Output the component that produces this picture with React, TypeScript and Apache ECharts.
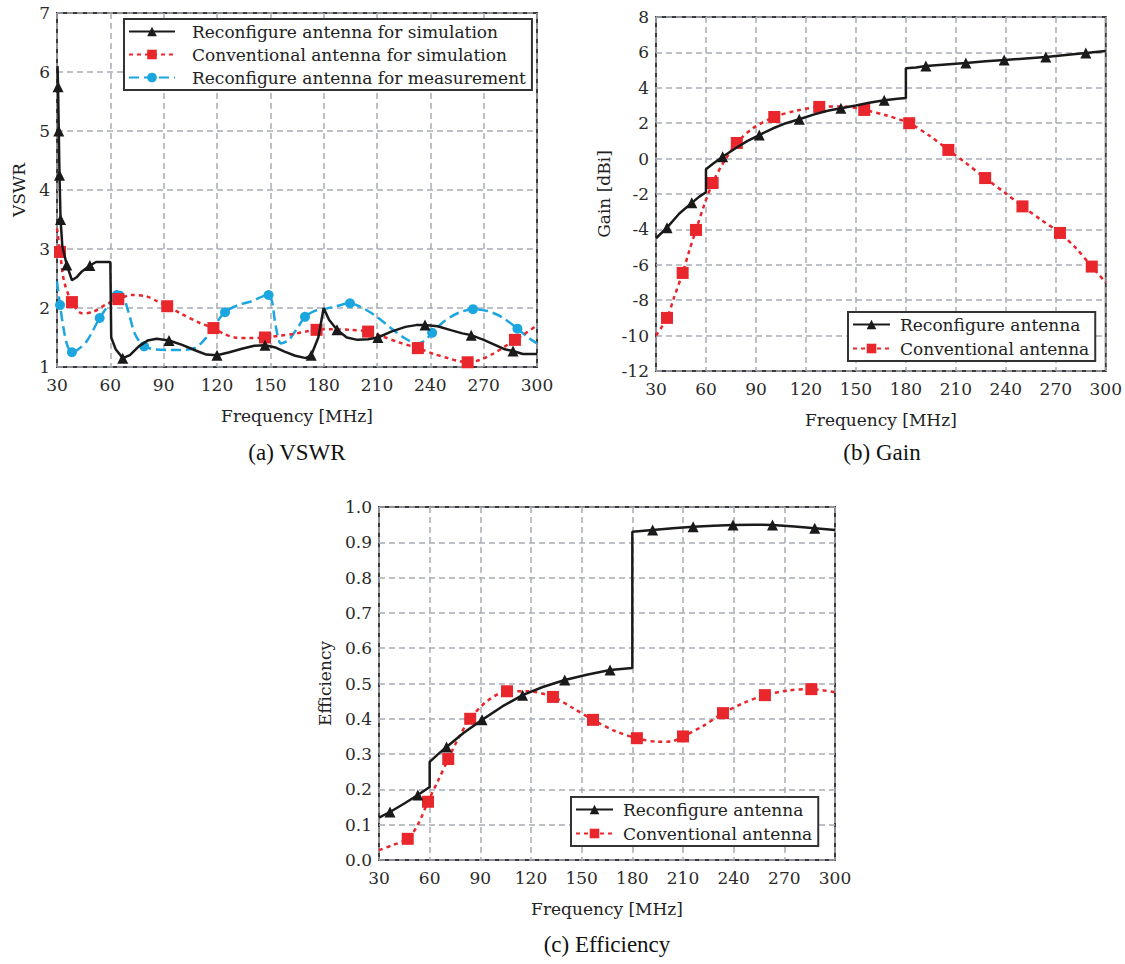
import React, { useEffect, useRef } from "react";
import * as echarts from "echarts";

// ---------- data ----------
const freqTicks = [30, 60, 90, 120, 150, 180, 210, 240, 270, 300];

// (a) VSWR
const vswrReconfigSim: number[][] = [
  [30.3, 6.1], [30.6, 5.75], [31, 5.0], [31.4, 4.25], [32, 3.5], [33, 3.05], [35.5, 2.73], [38.4, 2.47],
  [41, 2.52], [44, 2.62], [48.5, 2.72], [52, 2.78], [60, 2.78], [60.5, 1.5], [63, 1.3], [67, 1.15],
  [71, 1.2], [76, 1.35], [81, 1.45], [86, 1.48], [93, 1.45], [100, 1.38], [108, 1.28], [114, 1.21],
  [120, 1.2], [127, 1.25], [134, 1.31], [141, 1.36], [147, 1.37], [153, 1.33], [158, 1.26], [164, 1.19],
  [170, 1.15], [173, 1.2], [177, 1.5], [180, 2.0], [183, 1.8], [187.5, 1.63], [193, 1.5], [199, 1.46],
  [205, 1.47], [210.5, 1.5], [218, 1.6], [226, 1.68], [232, 1.71], [237, 1.71], [244, 1.69], [252, 1.62],
  [258, 1.57], [263, 1.54], [270, 1.46], [276, 1.38], [282, 1.3], [286.5, 1.27], [292, 1.22], [300, 1.22],
];
const vswrReconfigSimMarks = [30.6, 31, 31.4, 32, 35.5, 48.5, 67, 93, 120, 147, 173, 187.5, 210.5, 237, 263, 286.5];

const vswrConvSim: number[][] = [
  [30, 3.35], [31.7, 2.95], [34, 2.45], [38.4, 2.1], [44, 1.91], [50, 1.93], [57, 2.05], [64.5, 2.15],
  [72, 2.22], [80, 2.2], [86, 2.12], [92, 2.03], [100, 1.9], [110, 1.75], [118, 1.66], [124, 1.56],
  [130, 1.5], [138, 1.49], [147, 1.5], [155, 1.53], [163, 1.56], [170, 1.6], [176, 1.63], [185, 1.64],
  [195, 1.63], [205, 1.6], [213, 1.52], [222, 1.42], [233, 1.32], [242, 1.22], [250, 1.15], [256, 1.1],
  [261, 1.08], [268, 1.12], [275, 1.22], [281, 1.33], [287.6, 1.46], [294, 1.58], [300, 1.71],
];
const vswrConvSimMarks = [31.7, 38.4, 64.5, 92, 118, 147, 176, 205, 233, 261, 287.6];

const vswrReconfigMeas: number[][] = [
  [30, 2.45], [31.7, 2.05], [34, 1.6], [36, 1.35], [38.4, 1.25], [42, 1.3], [47, 1.45], [54, 1.83],
  [59, 2.05], [63.6, 2.22], [66, 2.27], [70, 1.95], [74, 1.55], [79, 1.35], [85, 1.3], [92, 1.29],
  [100, 1.29], [108, 1.33], [114, 1.5], [119, 1.72], [124.5, 1.93], [132, 2.05], [140, 2.12], [146, 2.2],
  [149, 2.22], [151, 2.1], [153, 1.7], [156, 1.4], [160, 1.45], [165, 1.65], [169.5, 1.85], [175, 1.95],
  [180, 1.98], [187, 2.03], [194.8, 2.08], [202, 2.0], [210, 1.85], [217, 1.68], [225, 1.5], [232.5, 1.4],
  [237, 1.45], [241, 1.58], [248, 1.78], [256, 1.92], [264, 1.98], [272, 1.95], [280, 1.85], [289, 1.65],
  [295, 1.5], [300, 1.4],
];
const vswrReconfigMeasMarks = [31.7, 38.4, 54, 63.6, 79, 124.5, 149, 169.5, 194.8, 241, 264, 289];

// (b) Gain
const gainReconfig: number[][] = [
  [30, -4.5], [36.6, -3.9], [44, -3.1], [51.5, -2.5], [56, -2.15], [60, -1.9], [60, -0.6], [64, -0.3],
  [70, 0.1], [78, 0.6], [85, 1.0], [92, 1.33], [100, 1.7], [108, 2.0], [116, 2.22], [125, 2.5],
  [133, 2.7], [141, 2.84], [150, 3.0], [158, 3.15], [167, 3.3], [175, 3.38], [180, 3.42], [180, 5.1],
  [186, 5.15], [192, 5.23], [204, 5.32], [216, 5.4], [228, 5.5], [239, 5.57], [252, 5.66], [264, 5.74],
  [276, 5.85], [288, 5.96], [300, 6.08],
];
const gainReconfigMarks = [36.6, 51.5, 70, 92, 116, 141, 167, 192, 216, 239, 264, 288];

const gainConv: number[][] = [
  [30, -10], [36.6, -9.0], [41, -7.8], [46, -6.46], [50, -5.2], [54, -4.03], [59, -2.6], [64, -1.38],
  [70, -0.3], [78.5, 0.88], [88, 1.7], [101, 2.35], [114, 2.7], [128, 2.92], [142, 2.95], [155, 2.75],
  [168, 2.45], [182, 2.0], [194, 1.3], [205.5, 0.49], [216, -0.25], [227.6, -1.1], [239, -1.9], [250, -2.7],
  [261, -3.45], [272.5, -4.2], [282, -5.05], [291.6, -6.1], [300, -7.0],
];
const gainConvMarks = [36.6, 46, 54, 64, 78.5, 101, 128, 155, 182, 205.5, 227.6, 250, 272.5, 291.6];

// (c) Efficiency
const effReconfig: number[][] = [
  [30, 0.12], [36.5, 0.136], [45, 0.16], [53, 0.184], [60, 0.207], [60, 0.278], [65, 0.3], [70, 0.32],
  [80, 0.36], [91, 0.397], [103, 0.435], [115, 0.467], [127, 0.49], [140, 0.51], [153, 0.525], [166.8, 0.538],
  [180, 0.544], [180, 0.93], [192, 0.935], [204, 0.94], [216, 0.944], [228, 0.947], [239.6, 0.949], [252, 0.95],
  [263, 0.949], [276, 0.945], [288, 0.94], [300, 0.935],
];
const effReconfigMarks = [36.5, 53, 70, 91, 115, 140, 166.8, 192, 216, 239.6, 263, 288];

const effConv: number[][] = [
  [30, 0.028], [38, 0.042], [47, 0.06], [53, 0.1], [59, 0.165], [65, 0.225], [71, 0.286], [77, 0.345],
  [84, 0.4], [94, 0.45], [105.8, 0.478], [118, 0.478], [133, 0.462], [145, 0.43], [156.7, 0.397], [170, 0.365],
  [182.7, 0.345], [195, 0.335], [203, 0.336], [210, 0.35], [222, 0.38], [233.7, 0.416], [246, 0.445],
  [258.5, 0.467], [272, 0.48], [286, 0.484], [300, 0.475],
];
const effConvMarks = [47, 59, 71, 84, 105.8, 133, 156.7, 182.7, 210, 233.7, 258.5, 286];

// ---------- styling ----------
const FONT = "DejaVu Serif";
const CAP_FONT = "'Liberation Serif', 'Times New Roman', serif";
const BLACK = "#1a1a1a";
const RED = "#e8262c";
const CYAN = "#1ba6df";
const GRIDC = "#a8adb5";

function buildData(pts: number[][], marks: number[]) {
  return pts.map(([f, v]) =>
    marks.includes(f) ? { value: [f, v] } : { value: [f, v], symbol: "none" }
  );
}

function xAxisCfg(gridIndex: number) {
  return {
    type: "value",
    gridIndex,
    min: freqTicks[0],
    max: freqTicks[freqTicks.length - 1],
    interval: 30,
    name: "Frequency [MHz]",
    nameLocation: "middle",
    nameGap: 40,
    nameTextStyle: { fontFamily: FONT, fontSize: 17, color: "#222" },
    axisLine: { show: false },
    axisTick: { show: false },
    axisLabel: { fontFamily: FONT, fontSize: 17, color: "#2a2a2a", margin: 9, showMaxLabel: true, showMinLabel: true },
    splitLine: { show: true, lineStyle: { type: [6, 4], color: GRIDC, width: 1.5 } },
  };
}

function yAxisCfg(gridIndex: number, name: string, min: number, max: number, interval: number, gap: number, fmt?: (v: number) => string) {
  return {
    type: "value",
    gridIndex,
    min,
    max,
    interval,
    name,
    nameLocation: "middle",
    nameRotate: 90,
    nameGap: gap,
    nameTextStyle: { fontFamily: FONT, fontSize: 17, color: "#222" },
    axisLine: { show: false },
    axisTick: { show: false },
    axisLabel: { fontFamily: FONT, fontSize: 17, color: "#2a2a2a", margin: 7, formatter: fmt },
    splitLine: { show: true, lineStyle: { type: [6, 4], color: GRIDC, width: 1.5 } },
  };
}

function lineSeries(name: string, idx: number, pts: number[][], marks: number[], kind: "black" | "red" | "cyan") {
  const base: any = {
    name,
    type: "line",
    xAxisIndex: idx,
    yAxisIndex: idx,
    data: buildData(pts, marks),
    showSymbol: true,
    showAllSymbol: true,
    clip: true,
  };
  if (kind === "black") {
    return { ...base, symbol: "triangle", symbolSize: 11, smooth: false, color: BLACK, lineStyle: { color: BLACK, width: 2.5, type: "solid" }, itemStyle: { color: BLACK }, z: 4 };
  }
  if (kind === "red") {
    return { ...base, symbol: "rect", symbolSize: 12, smooth: 0.3, color: RED, lineStyle: { color: RED, width: 2.5, type: [4, 4] }, itemStyle: { color: RED }, z: 3 };
  }
  return { ...base, symbol: "circle", symbolSize: 10, smooth: 0.3, color: CYAN, lineStyle: { color: CYAN, width: 2.5, type: [10, 5] }, itemStyle: { color: CYAN }, z: 2 };
}

function legendCfg(left: number, top: number, names: string[], gap: number, itemWidth: number, textPad: number) {
  return {
    left,
    top,
    orient: "vertical",
    data: names,
    backgroundColor: "#fff",
    borderColor: "#333",
    borderWidth: 2,
    padding: [4, 6, 4, 4],
    itemGap: gap,
    itemWidth,
    itemHeight: 12,
    selectedMode: false,
    textStyle: { fontFamily: FONT, fontSize: 17, color: "#222", padding: [0, 0, 0, textPad] },
  };
}

export default function App() {
  const ref = useRef<HTMLDivElement>(null);
  useEffect(() => {
    document.body.style.margin = "0";
    if (!ref.current) return;
    const chart = echarts.init(ref.current, undefined, { renderer: "svg" });
    const gridBase = { show: true, borderColor: "#3a3a3a", borderWidth: 2, backgroundColor: "transparent", containLabel: false };
    const capStyle = { fontFamily: CAP_FONT, fontSize: 23, fill: "#111", align: "center", verticalAlign: "middle" };
    const option: any = {
      animation: false,
      backgroundColor: "#fff",
      grid: [
        { ...gridBase, left: 57, top: 13, width: 480, height: 354 },
        { ...gridBase, left: 656, top: 17, width: 451, height: 354 },
        { ...gridBase, left: 379, top: 507, width: 456, height: 353 },
      ],
      xAxis: [xAxisCfg(0), xAxisCfg(1), xAxisCfg(2)],
      yAxis: [
        yAxisCfg(0, "VSWR", 1, 7, 1, 30),
        yAxisCfg(1, "Gain [dBi]", -12, 8, 2, 44),
        yAxisCfg(2, "Efficiency", 0, 1, 0.1, 46, (v: number) => v.toFixed(1)),
      ],
      legend: [
        legendCfg(124, 19, ["Reconfigure antenna for simulation", "Conventional antenna for simulation", "Reconfigure antenna for measurement"], 6, 46, 12),
        legendCfg(848, 312, ["Reconfigure antenna", "Conventional antenna"], 7, 37, 5),
        legendCfg(571, 797, ["Reconfigure antenna", "Conventional antenna"], 7, 37, 5),
      ],
      series: [
        lineSeries("Reconfigure antenna for measurement", 0, vswrReconfigMeas, vswrReconfigMeasMarks, "cyan"),
        lineSeries("Conventional antenna for simulation", 0, vswrConvSim, vswrConvSimMarks, "red"),
        lineSeries("Reconfigure antenna for simulation", 0, vswrReconfigSim, vswrReconfigSimMarks, "black"),
        lineSeries("Conventional antenna", 1, gainConv, gainConvMarks, "red"),
        lineSeries("Reconfigure antenna", 1, gainReconfig, gainReconfigMarks, "black"),
        lineSeries("Conventional antenna", 2, effConv, effConvMarks, "red"),
        lineSeries("Reconfigure antenna", 2, effReconfig, effReconfigMarks, "black"),
      ],
      graphic: [
        { type: "text", x: 297, y: 452, style: { ...capStyle, text: "(a) VSWR" } },
        { type: "text", x: 882, y: 452, style: { ...capStyle, text: "(b) Gain" } },
        { type: "text", x: 607, y: 944, style: { ...capStyle, text: "(c) Efficiency" } },
      ],
    };
    chart.setOption(option);
    return () => chart.dispose();
  }, []);
  return <div ref={ref} style={{ width: 1125, height: 964 }} />;
}
